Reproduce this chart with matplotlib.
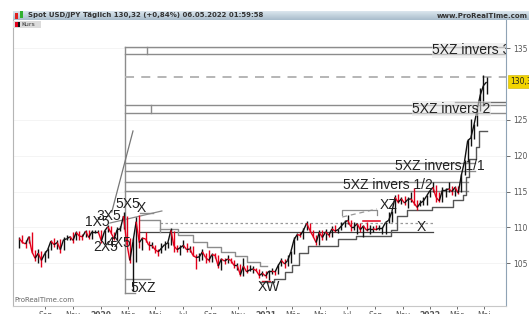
import numpy as np
import matplotlib
matplotlib.use("Agg")
import matplotlib.pyplot as plt
import matplotlib.dates as mdates
from matplotlib.collections import LineCollection
from matplotlib.patches import Rectangle

# ---------------- data (weekly) ----------------
first_week = "2019-07-05"
closes = [108.45, 107.9, 107.7, 108.7, 106.6, 105.7, 106.4, 105.4, 106.3, 106.9, 108.1, 107.6, 107.9,
          106.9, 108.3, 108.4, 108.7, 108.2, 109.3, 108.8, 108.7, 109.5, 108.6, 109.4, 109.4, 109.4,
          108.1, 109.5, 110.1, 109.3, 108.4, 109.7, 109.8, 111.6, 107.9, 105.4, 108.0, 110.8, 107.9,
          108.5, 108.4, 107.5, 107.5, 106.9, 106.6, 107.1, 107.6, 107.8, 109.6, 107.4, 106.9, 107.2,
          107.5, 106.9, 107.0, 106.1, 105.8, 105.9, 106.6, 105.8, 105.4, 106.2, 106.1, 104.6, 105.6,
          105.3, 105.6, 105.4, 104.7, 104.7, 103.4, 104.6, 103.8, 104.1, 104.2, 104.0, 103.3, 103.6,
          103.2, 103.9, 103.9, 103.8, 104.7, 105.4, 104.9, 105.4, 106.6, 108.3, 109.0, 108.9, 109.6,
          110.6, 109.6, 108.8, 107.9, 109.3, 108.6, 109.4, 108.9, 109.8, 109.5, 109.7, 110.2, 110.7,
          111.0, 110.1, 110.1, 110.5, 109.7, 110.2, 109.6, 109.8, 109.8, 109.7, 109.9, 109.9, 110.7,
          111.0, 112.2, 114.2, 113.5, 114.0, 113.4, 113.9, 114.0, 113.4, 112.8, 113.4, 113.7, 114.4, 115.1,
          115.6, 114.2, 113.7, 115.2, 115.2, 115.4, 115.0, 115.6, 114.8, 117.3, 119.2, 122.1,
          122.5, 124.3, 126.4, 128.5, 129.8, 130.3]
highs = [108.6, 108.99, 108.3, 108.8, 109.3, 106.9, 106.95, 106.7, 106.7, 107.2, 108.25, 108.5, 108.2,
         108.45, 108.6, 108.9, 108.8, 109.3, 109.5, 109.5, 109.1, 109.7, 109.7, 109.7, 109.7, 109.6,
         109.6, 109.7, 110.3, 110.2, 109.3, 110.0, 110.15, 112.2, 111.6, 108.5, 108.5, 111.5, 111.7,
         108.7, 109.4, 108.1, 108.0, 107.6, 107.0, 107.8, 108.1, 108.0, 109.9, 109.5, 107.6, 107.5,
         108.2, 107.8, 107.4, 107.4, 106.3, 106.5, 107.0, 106.5, 106.9, 106.5, 106.4, 106.1, 105.7,
         105.8, 106.1, 105.7, 105.5, 105.1, 104.9, 105.7, 104.8, 104.75, 104.6, 104.4, 104.2, 103.9,
         103.9, 104.1, 104.4, 104.1, 104.9, 105.8, 105.6, 106.2, 106.7, 108.6, 109.2, 109.3, 109.9,
         110.97, 110.6, 109.6, 108.9, 109.7, 109.6, 109.8, 109.4, 110.2, 110.3, 109.8, 110.8, 111.1,
         111.7, 111.1, 110.7, 110.6, 110.6, 110.4, 110.8, 110.3, 110.2, 110.4, 110.4, 110.1, 110.8,
         112.1, 112.3, 114.5, 114.7, 114.3, 114.4, 114.2, 114.9, 115.5, 113.9, 113.9, 114.2, 114.5, 115.2,
         116.35, 115.9, 114.95, 115.7, 115.5, 116.3, 115.8, 115.8, 115.8, 117.4, 119.4, 122.4,
         125.1, 124.5, 126.7, 129.4, 131.25, 131.0]
lows = [107.2, 107.8, 107.2, 107.8, 106.5, 105.3, 105.05, 104.45, 105.2, 105.75, 106.9, 107.3, 107.0,
        106.5, 106.8, 108.2, 108.3, 107.9, 108.2, 108.25, 108.3, 108.7, 108.4, 108.4, 109.2, 109.3,
        107.85, 107.65, 109.4, 109.2, 108.3, 108.3, 109.5, 109.8, 107.5, 105.0, 101.2, 105.2, 107.2,
        106.9, 108.0, 106.9, 107.2, 106.4, 106.0, 106.5, 106.8, 107.1, 107.6, 106.6, 106.6, 106.1,
        107.2, 106.6, 106.6, 106.0, 104.2, 105.3, 105.5, 105.1, 105.2, 105.2, 105.8, 104.3, 104.0,
        104.9, 105.0, 105.0, 104.3, 104.0, 103.2, 103.2, 103.65, 103.9, 103.7, 103.9, 102.9, 103.2,
        102.95, 102.6, 103.5, 103.3, 103.5, 104.6, 104.4, 104.6, 105.0, 106.3, 108.3, 108.6, 108.4,
        109.6, 109.4, 108.6, 107.5, 107.5, 108.3, 108.3, 108.6, 108.6, 109.3, 109.2, 109.7, 110.0,
        110.5, 109.5, 109.7, 109.1, 109.4, 108.7, 109.5, 109.1, 109.4, 109.6, 109.6, 109.1, 109.1,
        110.6, 110.8, 112.0, 113.4, 113.3, 113.2, 112.7, 113.6, 113.1, 112.5, 113.0, 113.1, 113.1, 114.3,
        115.0, 113.5, 113.6, 113.5, 114.2, 114.9, 114.5, 114.4, 114.7, 114.9, 117.3, 119.1,
        121.3, 122.4, 124.2, 126.2, 127.0, 128.6]

# y-axis and x-axis ticks
price_ticks = [105, 110, 115, 120, 125, 135]
last_price = 130.32
month_ticks = ["2019-09-01", "2019-11-01", "2020-01-01", "2020-03-01", "2020-05-01", "2020-07-01",
               "2020-09-01", "2020-11-01", "2021-01-01", "2021-03-01", "2021-05-01", "2021-07-01",
               "2021-09-01", "2021-11-01", "2022-01-01", "2022-03-01", "2022-05-01"]
month_labels = ["Sep", "Nov", "2020", "Mär", "Mai", "Jul", "Sep", "Nov", "2021", "Mär", "Mai", "Jul",
                "Sep", "Nov", "2022", "Mär", "Mai"]

# drawn levels (price) of the projection boxes
zone_start = "2020-02-24"
invers3_levels = [135.22, 134.16]
invers2_levels = [127.09, 126.01]
invers11_levels = [119.04, 117.92]
invers12_levels = [116.39, 115.13]
target_level = 131.04
recent_level = 127.55
xz5_levels = [102.81, 100.86]
x_solid_level = 109.41
x_dotted_level = 110.67
xw_level = 102.5

# trailing stop staircases (date, level)
stair_down_dates = ["2020-05-12", "2020-06-20", "2020-07-25", "2020-08-25", "2020-09-25",
                    "2020-10-25", "2020-11-20", "2020-12-20"]
stair_down_levels = [109.8, 109.0, 108.0, 107.3, 106.6, 106.0, 105.2, 104.6]
stair_up_dates = ["2020-12-20", "2021-01-20", "2021-02-12", "2021-03-01", "2021-03-15", "2021-04-05",
                  "2021-06-10", "2021-07-20", "2021-10-05", "2021-10-20", "2021-11-10", "2022-01-05",
                  "2022-02-20", "2022-03-14", "2022-03-22", "2022-03-29", "2022-04-12", "2022-04-20",
                  "2022-05-06"]
stair_up_levels = [102.4, 102.8, 103.8, 104.8, 106.4, 107.4, 108.4, 108.8, 109.6, 111.6, 112.4, 112.9,
                   113.8, 114.5, 117.0, 119.6, 121.2, 123.5, 123.5]

labels = [("5XZ invers 3", "2022-01-05", 134.7, True),
          ("5XZ invers 2", "2021-11-22", 126.6, True),
          ("5XZ invers 1/1", "2021-10-15", 118.55, False),
          ("5XZ invers 1/2", "2021-06-22", 115.95, False),
          ("5XZ", "2020-03-08", 101.55, False),
          ("XW", "2020-12-15", 101.65, False),
          ("X", "2021-12-01", 110.05, False),
          ("XZ", "2021-09-10", 113.2, False),
          ("1X5", "2019-11-28", 110.75, False),
          ("3X5", "2019-12-24", 111.6, False),
          ("2X5", "2019-12-15", 107.3, False),
          ("4X5", "2020-01-15", 107.85, False),
          ("5X5", "2020-02-02", 113.25, False),
          ("X", "2020-03-22", 112.7, False)]

# ---------------- figure ----------------
W, H = 529, 314
fig = plt.figure(figsize=(W / 100, H / 100), dpi=100)
fig.patch.set_facecolor("white")


def fx(px):
    return px / W


def fy(py):
    return 1 - py / H


def d(s):
    return mdates.datestr2num(s)


ax = fig.add_axes([fx(13), fy(306), fx(506) - fx(13), fy(20) - fy(306)])
ax.set_xlim(d("2019-06-21"), d("2022-06-18"))
ax.set_ylim(99.04, 138.95)

ax.spines["top"].set_visible(False)
ax.spines["left"].set_color("#b5b5b5")
ax.spines["bottom"].set_color("#c8c8c8")
ax.spines["right"].set_color("#8fa3b5")
for s in ax.spines.values():
    s.set_linewidth(0.8)

ax.yaxis.tick_right()
ax.set_yticks(price_ticks)
ax.set_yticklabels([str(v) for v in price_ticks])
ax.tick_params(axis="y", labelsize=5.5, colors="#555555", length=3, width=0.6, pad=2)
ax.set_xticks([d(s) for s in month_ticks])
ax.set_xticklabels(month_labels)
for lab in ax.get_xticklabels():
    if lab.get_text().isdigit():
        lab.set_fontweight("bold")
ax.tick_params(axis="x", labelsize=5.5, colors="#555555", length=2, width=0.6, pad=1.5)
ax.grid(axis="y", color="#f2f2f2", lw=0.6)
ax.set_axisbelow(True)

# ---------------- overlays ----------------
g = "#8c8c8c"
xs = d(zone_start)
xe = ax.get_xlim()[1]
ax.plot([xs, xs], [xz5_levels[1], invers3_levels[0]], color=g, lw=1.0)
for lv in invers3_levels + invers2_levels:
    ax.plot([xs, xe], [lv, lv], color=g, lw=1.0)
ax.plot([d("2020-04-14")] * 2, invers3_levels, color=g, lw=1.0)
ax.plot([d("2020-04-23")] * 2, invers2_levels, color=g, lw=1.0)
ax.plot([xs, xe], [target_level] * 2, color="#b0b0b0", lw=1.3, ls=(0, (5, 4)))
ax.plot([d("2022-02-25"), xe], [recent_level] * 2, color="#707070", lw=1.0)
for lv in invers11_levels:
    ax.plot([xs, d("2022-04-10")], [lv, lv], color=g, lw=1.0)
for lv in invers12_levels:
    ax.plot([xs, d("2022-03-26")], [lv, lv], color=g, lw=1.0)
ax.plot([xs, d("2020-04-19")], [xz5_levels[0]] * 2, color=g, lw=1.0)
ax.plot([xs, d("2020-03-18")], [xz5_levels[1]] * 2, color=g, lw=1.0)
ax.plot([d("2020-03-28"), d("2022-01-07")], [x_solid_level] * 2, color="#444444", lw=0.9)
ax.plot([d("2020-05-12"), d("2022-01-07")], [x_dotted_level] * 2, color="#9a9a9a", lw=0.9,
        ls=(0, (2, 2)))
ax.plot([d("2020-03-28"), d("2020-05-12"), d("2020-05-12")], [111.04, 111.04, x_solid_level],
        color=g, lw=1.0)
ax.plot([d("2020-03-28"), d("2020-04-26")], [112.02, 112.02], color=g, lw=1.0)
ax.plot([d("2020-01-26"), d("2020-03-13")], [112.16, 123.46], color="#777777", lw=0.9)
ax.plot([d("2020-01-22"), d("2020-05-16")], [110.62, 112.3], color="#888888", lw=0.9)
ax.plot([d("2021-06-20"), d("2021-09-05")], [111.46, 112.58], color="#999999", lw=0.9, ls=(0, (4, 3)))
ax.plot([d("2021-06-20"), d("2021-06-20"), d("2021-09-05"), d("2021-09-05")],
        [111.7, 112.4, 112.4, 111.7], color=g, lw=0.9)
ax.plot([d("2021-08-06"), d("2021-09-11")], [110.85, 110.85], color="#e3001b", lw=1.1)
ax.plot([d("2020-12-24"), d("2021-01-10")], [xw_level, xw_level], color="#e3001b", lw=1.0)

sd = [d(s) for s in stair_down_dates]
ax.step(sd + [d("2021-01-05")], stair_down_levels + [stair_down_levels[-1]], where="post",
        color=g, lw=1.0)
su = [d(s) for s in stair_up_dates]
ax.step(su, stair_up_levels, where="post", color="#555555", lw=1.0)

# ---------------- price ----------------
dates = np.arange(np.datetime64(first_week), np.datetime64(first_week) + np.timedelta64(7 * len(closes), "D"),
                  np.timedelta64(7, "D"))
t = mdates.date2num(dates.astype("datetime64[D]").astype(object))
c = np.array(closes)
o = np.r_[c[0], c[:-1]]
cols = np.where(c >= o, "#111111", "#e3001b")
ax.vlines(t, lows, highs, colors=cols, lw=1.0, zorder=3)
segs = np.stack([np.c_[t[:-1], c[:-1]], np.c_[t[1:], c[1:]]], axis=1)
ax.add_collection(LineCollection(segs, colors=cols[1:], lw=1.0, zorder=3))

for txt, ds, p, boxed in labels:
    kw = {}
    if boxed:
        kw["bbox"] = dict(facecolor="#e4e4e4", edgecolor="none", alpha=0.55, pad=0.3)
    ax.text(d(ds), p, txt, fontsize=10, family="Liberation Sans", color="#222222",
            va="center", ha="left", zorder=5, clip_on=True, **kw)

# price tag
ax.annotate("130,3", xy=(1.0, last_price), xycoords=("axes fraction", "data"),
            xytext=(3, 0), textcoords="offset points", fontsize=5.5, color="#222222",
            va="center", ha="left", annotation_clip=False,
            bbox=dict(boxstyle="square,pad=0.25", facecolor="#f2d400", edgecolor="#c8b000", lw=0.4))

ax.text(0.003, 0.01, "ProRealTime.com", transform=ax.transAxes, fontsize=5, color="#666666",
        va="bottom", ha="left")

# ---------------- header bar ----------------
hb = fig.add_axes([fx(13), fy(20), fx(529) - fx(13), (20 - 11) / H])
grad = np.linspace(0, 1, 20).reshape(-1, 1)
hb.imshow(grad, aspect="auto", cmap=matplotlib.colors.LinearSegmentedColormap.from_list(
    "hb", ["#dbe6ee", "#a9bdcc"]), extent=[0, 1, 0, 1])
hb.set_axis_off()
fig.patches.append(Rectangle((fx(15), fy(19)), 3 / W, 6 / H, transform=fig.transFigure,
                             facecolor="#e02020", edgecolor="none"))
fig.patches.append(Rectangle((fx(19.5), fy(18)), 3 / W, 7 / H, transform=fig.transFigure,
                             facecolor="#30b030", edgecolor="none"))
fig.text(fx(28), fy(15.5), "Spot USD/JPY Täglich 130,32 (+0,84%) 06.05.2022 01:59:58",
         fontsize=5, fontweight="bold", color="#333333", va="center", ha="left")
fig.text(fx(528), fy(15.5), "www.ProRealTime.com", fontsize=5, fontweight="bold",
         color="#333333", va="center", ha="right")

# legend "Kurs"
fig.patches.append(Rectangle((fx(13), fy(28)), 28 / W, 7 / H, transform=fig.transFigure,
                             facecolor="#dcdcdc", edgecolor="none", zorder=5))
fig.patches.append(Rectangle((fx(14.5), fy(27)), 3 / W, 5 / H, transform=fig.transFigure,
                             facecolor="#e3001b", edgecolor="none", zorder=6))
fig.patches.append(Rectangle((fx(17.5), fy(27)), 2.5 / W, 5 / H, transform=fig.transFigure,
                             facecolor="#111111", edgecolor="none", zorder=6))
fig.text(fx(21.5), fy(24.5), "Kurs", fontsize=4.5, color="#333333", va="center", ha="left", zorder=7)

fig.savefig("out.png", dpi=100)
